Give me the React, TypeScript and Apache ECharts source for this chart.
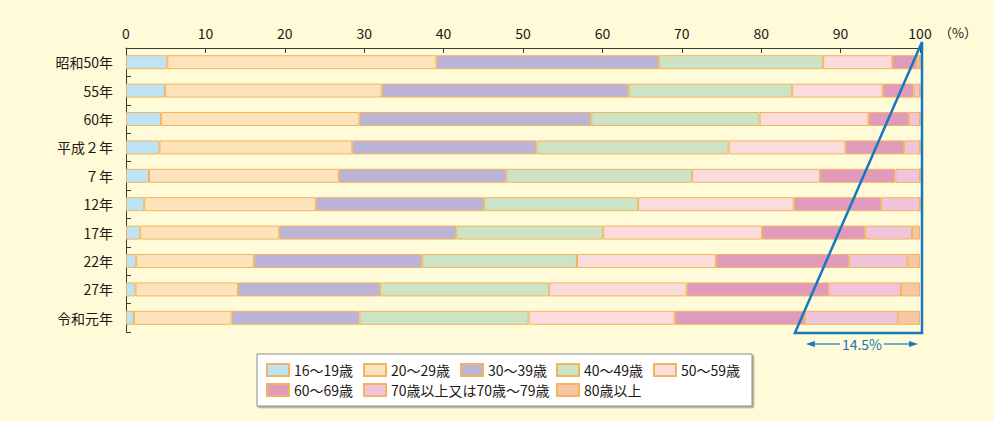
import React, { useEffect, useRef } from "react";
import * as echarts from "echarts";

const categories = ["昭和50年", "55年", "60年", "平成２年", "７年", "12年", "17年", "22年", "27年", "令和元年"];
const seriesNames = ["16～19歳", "20～29歳", "30～39歳", "40～49歳", "50～59歳", "60～69歳", "70歳以上又は70歳～79歳", "80歳以上"];
const age16to19 = [5.2, 4.9, 4.4, 4.2, 2.9, 2.3, 1.8, 1.3, 1.2, 1.0];
const age20to29 = [33.9, 27.3, 25.0, 24.3, 23.9, 21.6, 17.5, 14.8, 12.9, 12.3];
const age30to39 = [28.0, 31.1, 29.2, 23.2, 21.1, 21.2, 22.3, 21.2, 17.9, 16.1];
const age40to49 = [20.7, 20.6, 21.2, 24.2, 23.4, 19.4, 18.5, 19.5, 21.3, 21.3];
const age50to59 = [8.7, 11.4, 13.7, 14.7, 16.1, 19.6, 20.0, 17.5, 17.3, 18.4];
const age60to69 = [3.1, 3.9, 5.1, 7.4, 9.5, 11.0, 13.0, 16.8, 17.9, 16.4];
const age70plus = [0.4, 0.8, 1.4, 2.0, 3.1, 4.9, 5.9, 7.3, 9.1, 11.7];
const age80plus = [0, 0, 0, 0, 0, 0, 1.0, 1.6, 2.4, 2.8];
const xTicks = [0, 10, 20, 30, 40, 50, 60, 70, 80, 90, 100];
const annotationLabel = "14.5%";
const annotationStart = 85.5;

const seriesData = [age16to19, age20to29, age30to39, age40to49, age50to59, age60to69, age70plus, age80plus];
const colors = ["#bde3f4", "#fde3bc", "#bcb3d8", "#cce4c5", "#fadcdc", "#e09abb", "#f0c5db", "#f6c6a7"];

const GRID_LEFT = 126;
const GRID_RIGHT = 74;
const GRID_TOP = 48;
const GRID_BOTTOM = 89;
const BLUE = "#1479c0";
const TEXT = "#231815";
const FONT = "'Noto Sans CJK JP', 'Noto Sans', sans-serif";

const legendPos: [number, number][] = [
  [266, 363], [363, 363], [460, 363], [556, 363], [653, 363],
  [266, 383], [363, 383], [556, 383],
];

export default function App() {
  const ref = useRef<HTMLDivElement>(null);
  useEffect(() => {
    if (!ref.current) return;
    const chart = echarts.init(ref.current, null, { renderer: "svg" });
    const option: any = {
      animation: false,
      backgroundColor: "#fffad8",
      textStyle: { fontFamily: FONT },
      grid: { left: GRID_LEFT, right: GRID_RIGHT, top: GRID_TOP, bottom: GRID_BOTTOM, containLabel: false },
      xAxis: {
        type: "value",
        position: "top",
        min: 0,
        max: 100,
        interval: 10,
        axisLine: { show: true, lineStyle: { color: "#3a3a3a", width: 1 } },
        axisTick: { show: true, inside: true, length: 5, lineStyle: { color: "#3a3a3a" } },
        splitLine: { show: false },
        axisLabel: {
          color: TEXT,
          fontSize: 14,
          margin: 8,
          fontFamily: FONT,
          formatter: (v: number) => (xTicks.includes(v) ? String(v) : ""),
        },
      },
      yAxis: {
        type: "category",
        data: categories,
        inverse: true,
        axisLine: { show: true, lineStyle: { color: "#3a3a3a", width: 1 } },
        axisTick: { show: true, inside: true, length: 5, lineStyle: { color: "#3a3a3a" } },
        axisLabel: { color: TEXT, fontSize: 14, margin: 13, fontFamily: FONT },
      },
      legend: seriesNames.map((n, i) => ({
        data: [n],
        left: legendPos[i][0],
        top: legendPos[i][1],
        padding: 0,
        itemWidth: 22,
        itemHeight: 12,
        itemGap: 6,
        icon: "rect",
        selectedMode: false,
        textStyle: { color: TEXT, fontSize: 14, fontFamily: FONT },
        z: 10,
      })),
      series: seriesNames.map((n, i) => ({
        name: n,
        type: "bar",
        stack: "total",
        barWidth: 14,
        data: seriesData[i],
        itemStyle: {
          color: colors[i],
          borderColor: "#f2b55c",
          borderWidth: 1,
        },
      })),
    };
    chart.setOption(option);

    const x100 = chart.convertToPixel({ xAxisIndex: 0 }, 100) as number;
    const xStart = chart.convertToPixel({ xAxisIndex: 0 }, annotationStart) as number;
    const yTop = GRID_TOP - 6;
    const yBottom = 421 - GRID_BOTTOM + 1;
    const xRight = x100 + 2;
    const xLeft = xStart - 10;
    const arrowY = yBottom + 11;
    const aL = xStart + 1;
    const aR = x100 - 2;
    const mid = (aL + aR) / 2;

    chart.setOption({
      graphic: [
        {
          type: "rect",
          shape: { x: 257, y: 354, width: 495, height: 52 },
          style: { fill: "#ffffff", stroke: "#8a8a8a", lineWidth: 1, shadowColor: "rgba(0,0,0,0.35)", shadowOffsetX: 1.5, shadowOffsetY: 1.5, shadowBlur: 1 },
          z: 1,
        },
        {
          type: "text",
          x: x100 + 19,
          y: 32,
          style: { text: "（%）", fill: TEXT, font: `13px ${FONT}`, verticalAlign: "middle", align: "left" },
        },
        {
          type: "polygon",
          shape: { points: [[xRight, yTop], [xLeft, yBottom], [xRight, yBottom]] },
          style: { fill: "none", stroke: BLUE, lineWidth: 2.5, lineJoin: "miter" },
          z: 20,
        },
        { type: "line", shape: { x1: aL + 6, y1: arrowY, x2: mid - 22, y2: arrowY }, style: { stroke: BLUE, lineWidth: 1.2 }, z: 20 },
        { type: "line", shape: { x1: mid + 22, y1: arrowY, x2: aR - 6, y2: arrowY }, style: { stroke: BLUE, lineWidth: 1.2 }, z: 20 },
        { type: "polygon", shape: { points: [[aL, arrowY], [aL + 9, arrowY - 3], [aL + 9, arrowY + 3]] }, style: { fill: BLUE }, z: 20 },
        { type: "polygon", shape: { points: [[aR, arrowY], [aR - 9, arrowY - 3], [aR - 9, arrowY + 3]] }, style: { fill: BLUE }, z: 20 },
        {
          type: "text",
          x: mid,
          y: arrowY,
          style: { text: annotationLabel, fill: BLUE, font: `14px ${FONT}`, align: "center", verticalAlign: "middle" },
          z: 20,
        },
      ],
    });
    return () => chart.dispose();
  }, []);
  return <div ref={ref} style={{ width: 994, height: 421, position: "absolute", left: 0, top: 0 }} />;
}
